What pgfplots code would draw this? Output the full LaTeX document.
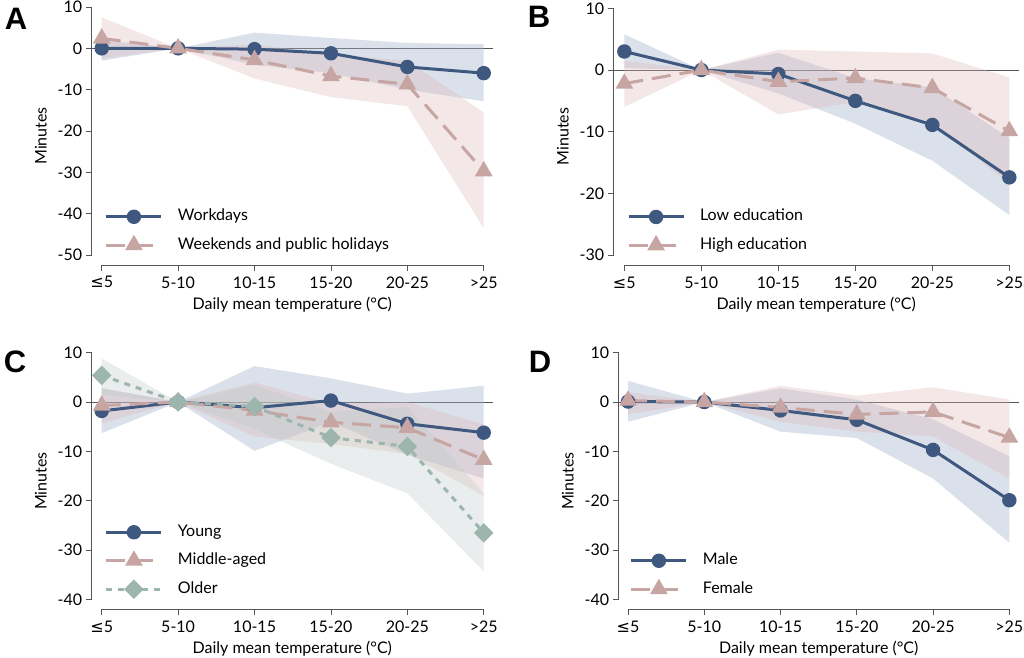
\documentclass[border=0pt]{standalone}
\usepackage{fontspec}
\setmainfont{Lato}
\newfontfamily\symfont{DejaVu Sans}
\newfontfamily\letterfont{Liberation Sans}
\usepackage{pgfplots}
\pgfplotsset{compat=1.18}

\definecolor{lineblue}{HTML}{3E5880}
\definecolor{linepink}{HTML}{C6A5A2}
\definecolor{linegreen}{HTML}{9CB5AD}
\definecolor{bandblue}{HTML}{A6B3CC}
\definecolor{bandpink}{HTML}{DCB9B6}
\definecolor{bandgreen}{HTML}{BCC8C8}
\definecolor{axisgray}{HTML}{555555}

\newcommand\txt{\fontsize{16}{19}\selectfont}

\tikzset{axisline/.style={draw=axisgray, line width=0.9pt}}

\pgfplotsset{
  panel/.style={
    scale only axis, clip=false,
    axis x line*=bottom, axis y line*=left,
    axis line style={draw=none},
    tick align=outside, major tick length=6pt,
    tick style={axisgray, line width=0.8pt},
    xtick={0,...,5},
    xticklabels={{\symfont ≤}5, 5-10, 10-15, 15-20, 20-25, >25},
    ticklabel style={font=\txt},
    xticklabel style={yshift=-2pt},
    label style={font=\txt},
    /pgf/number format/assume math mode=true,
    xlabel={Daily mean temperature (°C)},
    ylabel={Minutes},
    xlabel style={yshift=-2pt},
    ylabel style={yshift=-2pt},
    extra y ticks={0}, extra y tick labels={},
    extra y tick style={major tick length=0pt, grid=major,
      major grid style={draw=axisgray, line width=0.7pt}},
    legend cell align=left,
    legend style={draw=none, fill=none, inner sep=0pt, outer sep=0pt,
      anchor=west, row sep=14pt, column sep=15pt,
      nodes={inner sep=0pt, text height=11pt, text depth=3pt, font=\txt}},
    legend image code/.code={
      \draw[mark repeat=2, mark phase=2, #1]
        plot coordinates {(0pt,0pt) (27.5pt,0pt) (55pt,0pt)};},
  },
  blueline/.style={lineblue, line width=3pt, mark=*, mark size=5.7pt,
    mark options={solid, fill=lineblue}},
  pinkline/.style={linepink, line width=3pt, dash pattern=on 19pt off 9pt,
    mark=triangle*, mark size=7.3pt, mark options={solid, fill=linepink}},
  greenline/.style={linegreen, line width=3pt, dash pattern=on 6pt off 6pt,
    mark=square*, mark size=5.4pt, mark options={solid, fill=linegreen, rotate=45}},
  blueband/.style={fill=bandblue, draw=none, fill opacity=0.4, forget plot},
  pinkband/.style={fill=bandpink, draw=none, fill opacity=0.33, forget plot},
  greenband/.style={fill=bandgreen, draw=none, fill opacity=0.33, forget plot},
}

\begin{document}
\begin{tikzpicture}
\useasboundingbox (0,0) rectangle (1024pt,657pt);

% ---- A: workdays vs weekends
\begin{axis}[panel, at={(91.7pt,392pt)}, anchor=south west,
  width=401.2pt, height=258pt,
  xmin=-0.131, xmax=5.12, ymin=-52.4, ymax=10,
  ytick={-50,-40,...,10},
  legend style={at={(0.033,0.132)}}]
\addplot[blueband] coordinates {(0,2) (1,0) (2,3.8) (3,2.5) (4,1.3) (5,1)
  (5,-12.8) (4,-10) (3,-6) (2,-4) (1,0) (0,-3)};
\addplot[pinkband] coordinates {(0,7.5) (1,0) (2,1) (3,-1.5) (4,-3) (5,-15.5)
  (5,-43.5) (4,-14) (3,-11.8) (2,-7.3) (1,0) (0,-2.5)};
\addplot[blueline] coordinates {(0,0) (1,0) (2,-0.2) (3,-1.2) (4,-4.5) (5,-6.0)};
\addplot[pinkline] coordinates {(0,2.4) (1,0) (2,-2.8) (3,-6.7) (4,-8.7) (5,-29.7)};
\legend{Workdays, Weekends and public holidays}
\draw[axisline] (axis cs:-0.131,-50) -- (axis cs:-0.131,10);
\draw[axisline] (axis cs:0,-52.4) -- (axis cs:5,-52.4);
\end{axis}

% ---- B: education
\begin{axis}[panel, at={(613.7pt,392pt)}, anchor=south west,
  width=405pt, height=256.7pt,
  xmin=-0.138, xmax=5.122, ymin=-31.6, ymax=10,
  ytick={-30,-20,...,10},
  legend style={at={(0.033,0.132)}}]
\addplot[blueband] coordinates {(0,5.8) (1,0) (2,2.8) (3,-1.3) (4,-2.8) (5,-11)
  (5,-23.5) (4,-14.7) (3,-8.7) (2,-3.8) (1,0) (0,0.3)};
\addplot[pinkband] coordinates {(0,1.5) (1,0) (2,3.3) (3,3) (4,2.7) (5,-1.2)
  (5,-18.5) (4,-8.5) (3,-5.2) (2,-7.2) (1,0) (0,-6)};
\addplot[blueline] coordinates {(0,3.0) (1,0) (2,-0.65) (3,-5.0) (4,-8.9) (5,-17.4)};
\addplot[pinkline] coordinates {(0,-2.2) (1,0) (2,-1.9) (3,-1.3) (4,-2.9) (5,-9.9)};
\legend{Low education, High education}
\draw[axisline] (axis cs:-0.138,-30) -- (axis cs:-0.138,10);
\draw[axisline] (axis cs:0,-31.6) -- (axis cs:5,-31.6);
\end{axis}

% ---- C: age
\begin{axis}[panel, at={(91.7pt,47.7pt)}, anchor=south west,
  width=401.2pt, height=256.6pt,
  xmin=-0.131, xmax=5.12, ymin=-42, ymax=10,
  ytick={-40,-30,...,10},
  legend style={at={(0.033,0.188)}}]
\addplot[blueband] coordinates {(0,2.8) (1,0) (2,7.3) (3,4.8) (4,1.7) (5,3.3)
  (5,-15.5) (4,-10.7) (3,-4) (2,-9.9) (1,0) (0,-6.3)};
\addplot[pinkband] coordinates {(0,2.8) (1,0) (2,4) (3,-0.3) (4,0) (5,-4.5)
  (5,-19) (4,-10.5) (3,-8.5) (2,-7) (1,0) (0,-4.3)};
\addplot[greenband] coordinates {(0,8.8) (1,0) (2,3.5) (3,-2) (4,-1) (5,-18.5)
  (5,-34.3) (4,-18.5) (3,-12.5) (2,-5.5) (1,0) (0,1.5)};
\addplot[blueline] coordinates {(0,-1.8) (1,0) (2,-1.15) (3,0.3) (4,-4.4) (5,-6.2)};
\addplot[pinkline] coordinates {(0,-0.7) (1,0) (2,-1.7) (3,-4.1) (4,-5.2) (5,-11.7)};
\addplot[greenline] coordinates {(0,5.4) (1,0) (2,-0.9) (3,-7.2) (4,-9.0) (5,-26.5)};
\legend{Young, Middle-aged, Older}
\draw[axisline] (axis cs:-0.131,-40) -- (axis cs:-0.131,10);
\draw[axisline] (axis cs:0,-42) -- (axis cs:5,-42);
\end{axis}

% ---- D: sex
\begin{axis}[panel, at={(618.7pt,47.7pt)}, anchor=south west,
  width=400pt, height=256.6pt,
  xmin=-0.122, xmax=5.123, ymin=-42, ymax=10,
  ytick={-40,-30,...,10},
  legend style={at={(0.028,0.134)}}]
\addplot[blueband] coordinates {(0,4.3) (1,0) (2,2.8) (3,0.5) (4,-3.5) (5,-11)
  (5,-28.5) (4,-15.5) (3,-7.3) (2,-6) (1,0) (0,-4)};
\addplot[pinkband] coordinates {(0,2) (1,0) (2,3.3) (3,1.3) (4,3) (5,0.5)
  (5,-15.5) (4,-7) (3,-6) (2,-4) (1,0) (0,-2.5)};
\addplot[blueline] coordinates {(0,0.1) (1,0) (2,-1.7) (3,-3.6) (4,-9.7) (5,-19.9)};
\addplot[pinkline] coordinates {(0,0.3) (1,0) (2,-1.1) (3,-2.5) (4,-2.0) (5,-7.2)};
\legend{Male, Female}
\draw[axisline] (axis cs:-0.122,-40) -- (axis cs:-0.122,10);
\draw[axisline] (axis cs:0,-42) -- (axis cs:5,-42);
\end{axis}

\node[font=\letterfont\bfseries\fontsize{31}{31}\selectfont] at (16pt,638pt) {A};
\node[font=\letterfont\bfseries\fontsize{31}{31}\selectfont] at (539pt,640pt) {B};
\node[font=\letterfont\bfseries\fontsize{31}{31}\selectfont] at (15pt,295pt) {C};
\node[font=\letterfont\bfseries\fontsize{31}{31}\selectfont] at (540pt,295pt) {D};
\end{tikzpicture}
\end{document}
